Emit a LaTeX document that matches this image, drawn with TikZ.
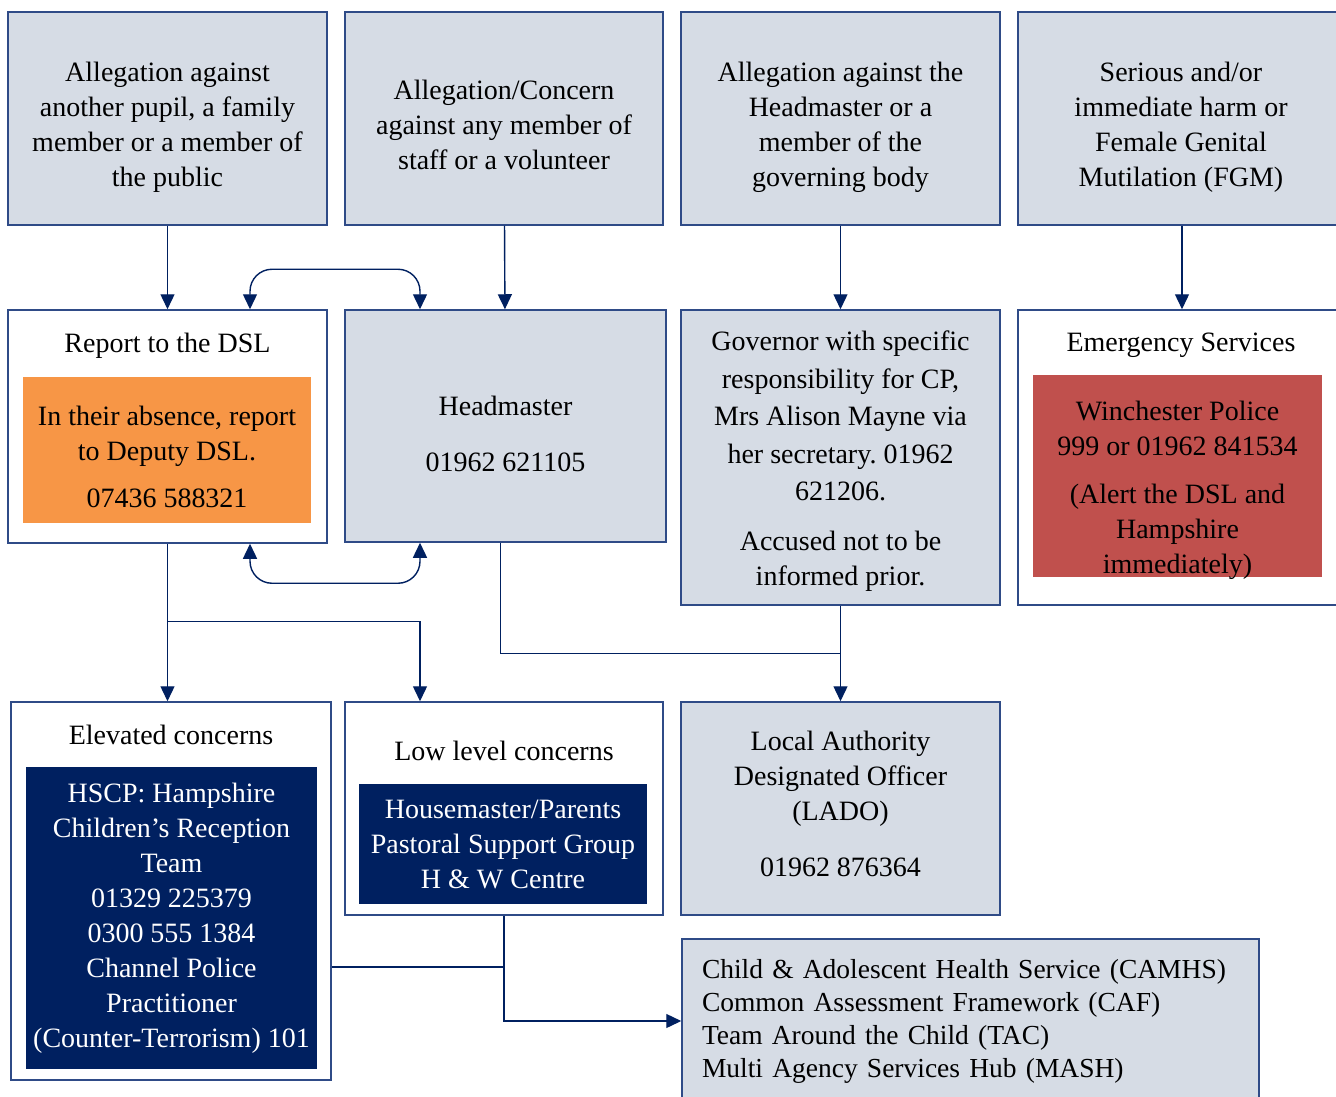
\documentclass[tikz,border=0pt]{standalone}
\usepackage{fontspec}
\setmainfont{Liberation Serif}
\usetikzlibrary{arrows.meta,calc}
\definecolor{boxgrey}{HTML}{D6DCE5}
\definecolor{boxline}{HTML}{2F4B87}
\definecolor{navy}{HTML}{002060}
\definecolor{deputy}{HTML}{F79646}
\definecolor{police}{HTML}{C0504D}
\frenchspacing
\begin{document}
\begin{tikzpicture}[x=1pt,y=-1pt,
  font=\fontsize{28}{35}\selectfont,
  greybox/.style={draw=boxline, line width=1.5pt, fill=boxgrey, align=center, inner sep=0pt},
  whitebox/.style={draw=boxline, line width=1.5pt, fill=white, inner sep=0pt},
  innerbox/.style={inner sep=0pt, align=center},
  arr/.style={draw=navy, line width=1.4pt, -{Triangle[width=14pt,length=15pt]}},
  arrtwo/.style={draw=navy, line width=1.4pt, {Triangle[width=14pt,length=15pt]}-{Triangle[width=14pt,length=15pt]}, rounded corners=22pt},
  line/.style={draw=navy, line width=1.4pt}]
\useasboundingbox (0,0) rectangle (1336,1097);
\node[greybox, minimum width=319pt, minimum height=213pt] (pupil) at (167.5,118.5){};
\node[innerbox] (pupiltext) at (167.5,127.5){Allegation against\\another pupil, a family\\member or a member of\\the public};
\node[greybox, minimum width=318pt, minimum height=213pt] (staff) at (504,118.5){};
\node[innerbox] (stafftext) at (504,124.5){Allegation/Concern\\against any member of\\staff or a volunteer};
\node[greybox, minimum width=319pt, minimum height=213pt] (headalleg) at (840.5,118.5){};
\node[innerbox] (headallegtext) at (840.5,127.5){Allegation against the\\Headmaster or a\\member of the\\governing body};
\node[greybox, minimum width=328pt, minimum height=213pt] (harm) at (1182,118.5){};
\node[innerbox] (harmtext) at (1181,127.5){Serious and/or\\immediate harm or\\Female Genital\\Mutilation (FGM)};
\node[whitebox, minimum width=319pt, minimum height=233pt] (dsl) at (167.5,426.5){};
\node (dsltitle) at (167.5,346){Report to the DSL};
\node[innerbox, fill=deputy, minimum width=288pt, minimum height=146pt] (deputydsl) at (167,450){};
\node[innerbox] (deputytext) at (167,457){In their absence, report\\to Deputy DSL.\\[12pt]07436 588321};
\node[greybox, minimum width=321pt, minimum height=232pt] (head) at (505.5,426){};
\node[innerbox] (headtext) at (505.5,434){Headmaster\\[21pt]01962 621105};
\node[greybox, minimum width=319pt, minimum height=295pt] (gov) at (840.5,457.5){};
\node[innerbox] (govtext) at (840.5,461.5){Governor with specific\\[2.5pt]responsibility for CP,\\[2.5pt]Mrs Alison Mayne via\\[2.5pt]her secretary. 01962\\[2.5pt]621206.\\[15pt]Accused not to be\\informed prior.};
\node[whitebox, minimum width=328pt, minimum height=295pt] (emerg) at (1182,457.5){};
\node (emergtitle) at (1181,345){Emergency Services};
\node[innerbox, fill=police, minimum width=289pt, minimum height=202pt] (policebox) at (1177.5,476){};
\node[innerbox] (policetext) at (1177.5,490){Winchester Police\\999 or 01962 841534\\[13pt](Alert the DSL and\\Hampshire\\immediately)};
\node[whitebox, minimum width=320pt, minimum height=378pt] (elev) at (171,891){};
\node (elevtitle) at (171,735){Elevated concerns};
\node[innerbox, fill=navy, text=white, minimum width=291pt, minimum height=302pt] (hscp) at (171.5,918){HSCP: Hampshire\\Children's Reception\\Team\\01329 225379\\0300 555 1384\\Channel Police\\Practitioner\\(Counter-Terrorism) 101};
\node[whitebox, minimum width=318pt, minimum height=213pt] (low) at (504,808.5){};
\node (lowtitle) at (504,751){Low level concerns};
\node[innerbox, fill=navy, text=white, minimum width=288pt, minimum height=120pt] (house) at (503,844){Housemaster/Parents\\Pastoral Support Group\\H \& W Centre};
\node[greybox, minimum width=319pt, minimum height=213pt] (lado) at (840.5,808.5){};
\node[innerbox] (ladotext) at (840.5,803.5){Local Authority\\Designated Officer\\(LADO)\\[21pt]01962 876364};
\node[greybox, minimum width=577pt, minimum height=164pt, align=left, text width=537pt, font=\fontsize{27.5}{33}\selectfont] (agencies) at (970.5,1021){Child \& Adolescent Health Service (CAMHS)\\Common Assessment Framework (CAF)\\Team Around the Child (TAC)\\Multi Agency Services Hub (MASH)};
\draw[arr] (pupil) -- (dsl);
\draw[arr] (staff) -- (head);
\draw[arr] (headalleg) -- (gov);
\draw[arr] (harm) -- (emerg);
\draw[arrtwo] ($(dsl.north)+(82.5,0)$) |- ($(dsl.north)!0.5!(head.north)+(0,-40)$) -| ($(head.north)+(-85.5,0)$);
\draw[arrtwo] ($(dsl.south)+(82.5,0)$) |- ($(dsl.south)!0.5!(head.south)+(0,40)$) -| ($(head.south)+(-85.5,0)$);
\coordinate (split) at ($(dsl.south)+(0,78)$);
\coordinate (join) at ($(gov.south)+(0,48)$);
\coordinate (merge) at (504,967);
\draw[arr] (dsl.south) -- (dsl.south |- elev.north);
\draw[arr] (split) -| ($(low.north)+(-84,0)$);
\draw[line] ($(head.south)+(-5,0)$) |- (join);
\draw[arr] (gov) -- (lado);
\draw[line] (elev.east |- merge) -- (merge);
\draw[line] (low.south) -- (merge);
\draw[arr] (merge) |- (agencies.west);
\end{tikzpicture}
\end{document}
